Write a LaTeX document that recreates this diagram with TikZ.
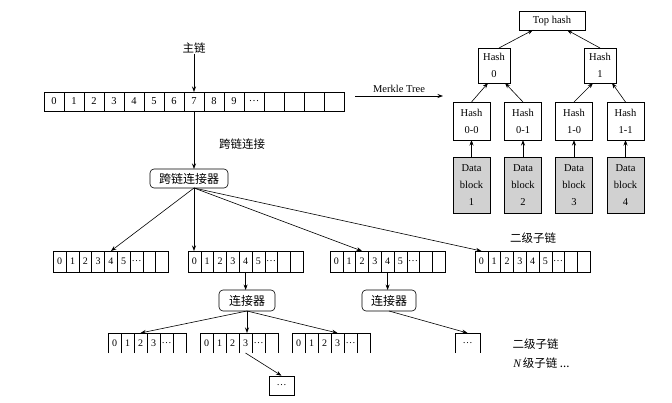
\documentclass[tikz,border=0pt]{standalone}
\usepackage{fontspec}
\setmainfont{Liberation Serif}
\newfontfamily\cjk{Noto Sans CJK SC}
\usetikzlibrary{calc,arrows.meta}
\begin{document}
\begin{tikzpicture}[x=1pt,y=-1pt,line width=0.6pt,
  arr/.style={-{Stealth[length=5.5pt,width=4pt]}},
  mcell/.style={draw,inner sep=0pt,outer sep=0pt,anchor=north west,minimum width=20pt,minimum height=19pt,font=\fontsize{10.5}{12}\selectfont},
  scell/.style={draw,inner sep=0pt,outer sep=0pt,anchor=north west,minimum width=12.8pt,minimum height=21pt,font=\fontsize{10}{12}\selectfont},
  tcell/.style={inner sep=0pt,outer sep=0pt,anchor=north west,minimum width=13pt,minimum height=20pt,font=\fontsize{10}{12}\selectfont},
  hbox/.style={draw,inner sep=0pt,outer sep=0pt,align=center,font=\fontsize{10.5}{17}\selectfont},
  dbox/.style={hbox,fill=black!18,minimum width=37pt,minimum height=56pt},
  conn/.style={draw,rounded corners=4pt,inner sep=0pt,outer sep=0pt,font=\cjk\fontsize{12}{14}\selectfont},
  clbl/.style={inner sep=0pt,font=\cjk\fontsize{11.5}{14}\selectfont}]
\useasboundingbox (0,0) rectangle (672,403);

% main chain
\foreach \t [count=\i from 0] in {0,1,2,3,4,5,6,7,8,9,\ldots,{},{},{},{}}
  \node[mcell] (m\i) at ({44+20*\i},92) {\t};
\node[clbl] (lmain) at (194,48) {主链};
\draw[arr] (lmain.south) -- (m7.north);
\node[clbl] (lcross) at (242,144) {跨链连接};
\node[conn,minimum width=78pt,minimum height=19pt] (cc) at (189,178.5) {跨链连接器};
\draw[arr] (m7.south) -- (m7.south |- cc.north);
\coordinate (cb) at (m7.south |- cc.south);

% second level chains
\foreach \x/\n in {53.3/s1,188/s2,330/s3,475/s4}{
  \foreach \t [count=\i from 0] in {0,1,2,3,4,5,\ldots,{},{}}
    \node[scell] (\n c\i) at ({\x+12.8*\i},251) {\t};
}
\draw[arr] (cb) -- (s1c4.north);
\draw[arr] (cb) -- (cb |- s2c0.north);
\draw[arr] (cb) -- (s3c2.north);
\draw[arr] (cb) -- (s4c0.north);
\node[clbl] (l2a) at (533,238) {二级子链};

% connectors
\node[conn,minimum width=56pt,minimum height=21pt] (k2) at (247,300.5) {连接器};
\node[conn,minimum width=54pt,minimum height=21pt] (k3) at (389,300.5) {连接器};
\draw[arr] (s2c4.south) -- (s2c4.south |- k2.north);
\draw[arr] (s3c4.south) -- (s3c4.south |- k3.north);

% third level chains (open bottom)
\foreach \x/\n in {108/t1,200/t2,292/t3}{
  \foreach \t [count=\i from 0] in {0,1,2,3,\ldots,{}}{
    \node[tcell] (\n c\i) at ({\x+13*\i},333) {\t};
    \draw (\n c\i.south west) -- (\n c\i.north west) -- (\n c\i.north east);
  }
  \draw (\n c5.north east) -- (\n c5.south east);
}
\node[tcell,minimum width=25pt] (e3) at (455,333) {\ldots};
\draw (e3.south west) -- (e3.north west) -- (e3.north east) -- (e3.south east);
\node[draw,inner sep=0pt,minimum width=25pt,minimum height=19pt,font=\fontsize{10}{12}\selectfont] (dd) at (281.5,385.5) {\ldots};

\draw[arr] (k2.south) -- (t1c2.north);
\draw[arr] (k2.south) -- (k2.south |- t2c3.north);
\draw[arr] (k2.south) -- (t3c3.north);
\draw[arr] (k3.south) -- (e3.north);
\draw[arr] (t2c3.south) -- (dd.north);

\node[clbl] (l2b) at (535.5,344) {二级子链};
\node[clbl,anchor=west] (lN) at (513,363) {\fontspec{Liberation Serif}\itshape N\,\cjk 级子链 ...};

% Merkle tree
\coordinate (mA) at (355,96);
\coordinate (mB) at (443,96);
\draw[arr] (mA) -- (mB) node[midway,above=3pt,inner sep=0pt,font=\fontsize{10.5}{12}\selectfont] (lmt) {Merkle Tree};

\node[hbox,minimum width=66pt,minimum height=19pt] (TH) at (552,20.5) {Top hash};
\node[hbox,minimum width=32pt,minimum height=35pt] (H0) at (494,65.5) {Hash\\0};
\node[hbox,minimum width=32pt,minimum height=35pt] (H1) at (600,65.5) {Hash\\1};
\foreach \x/\n/\h/\d in {471.5/00/0-0/1,523/01/0-1/2,574/10/1-0/3,625.5/11/1-1/4}{
  \node[hbox,minimum width=37pt,minimum height=38pt] (H\n) at (\x,121) {Hash\\\h};
  \node[dbox] (D\n) at (\x,185) {Data\\block\\\d};
  \draw[arr] (D\n.north) -- (H\n.south);
}
\draw[arr] (H00.north) -- ($(H0.south)+(-6,0)$);
\draw[arr] (H01.north) -- ($(H0.south)+(11,0)$);
\draw[arr] (H10.north) -- ($(H1.south)+(-7,0)$);
\draw[arr] (H11.north) -- ($(H1.south)+(12,0)$);
\draw[arr] ($(H0.north)+(5,0)$) -- ($(TH.south)+(-19,0)$);
\draw[arr] (H1.north) -- ($(TH.south)+(15,0)$);
\end{tikzpicture}
\end{document}
